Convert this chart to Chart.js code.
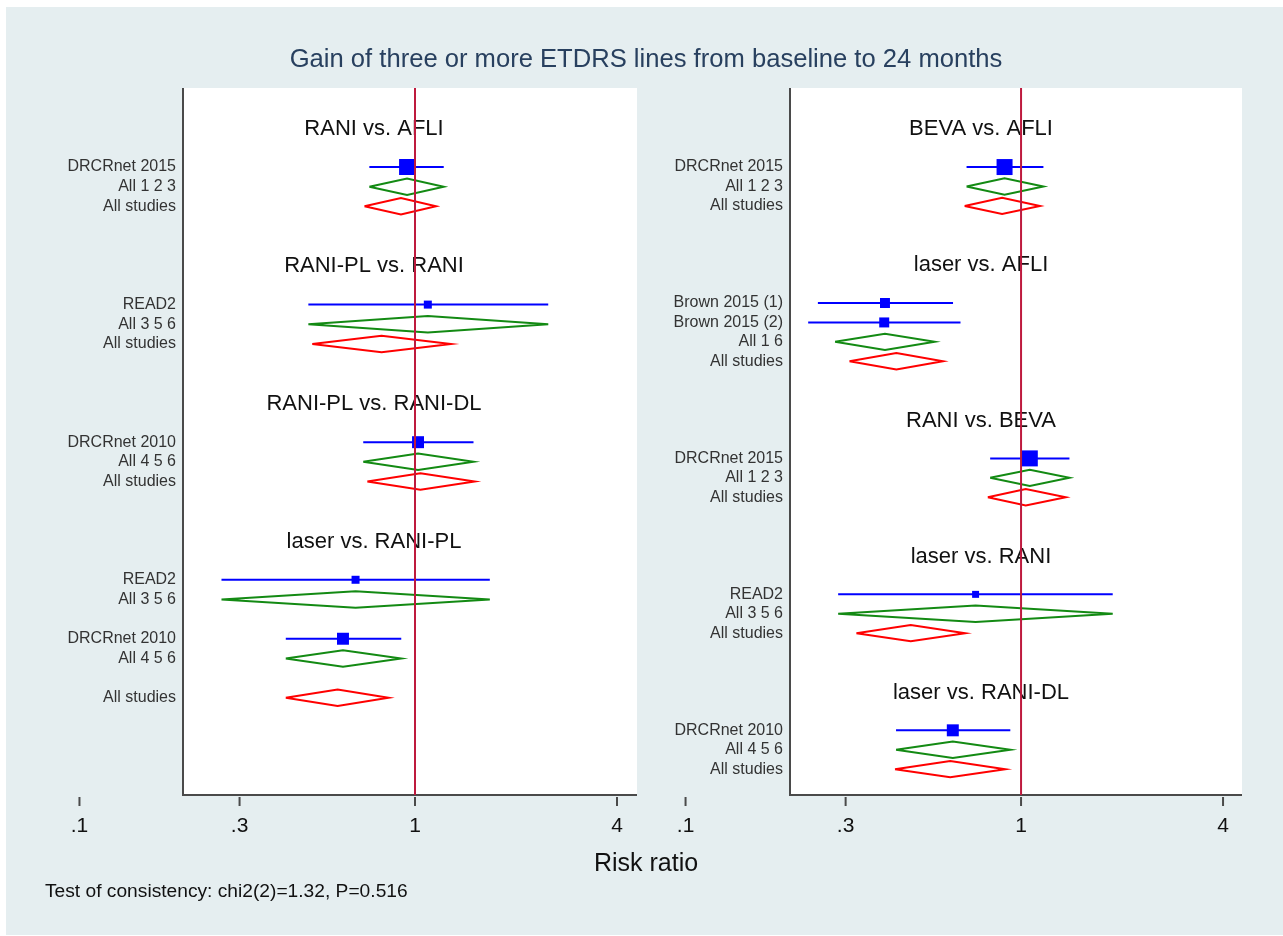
<!DOCTYPE html>
<html>
<head>
<meta charset="utf-8">
<title>Gain of three or more ETDRS lines from baseline to 24 months</title>
<script src="https://cdn.jsdelivr.net/npm/chart.js@4.4.1/dist/chart.umd.min.js"></script>
<style>
  body { margin: 0; background: #fff; width: 1283px; height: 936px; overflow: hidden; position: relative;
         font-family: 'Liberation Sans', Arial, sans-serif; }
  #bg { position: absolute; left: 6px; top: 7px; width: 1277px; height: 928px; background: #e5eef0; }
  canvas { position: absolute; top: 0; }
  .txt { position: absolute; white-space: nowrap; }
</style>
</head>
<body>
<div id="bg"></div>
<canvas id="leftChart" width="640" height="936" style="left:0"></canvas>
<canvas id="rightChart" width="643" height="936" style="left:640px"></canvas>
<div class="txt" style="left:0;width:1292px;top:43px;text-align:center;font-size:25.6px;line-height:30px;color:#28405f">Gain of three or more ETDRS lines from baseline to 24 months</div>
<div class="txt" style="left:0;width:1292px;top:847px;text-align:center;font-size:25px;line-height:30px;color:#111">Risk ratio</div>
<div class="txt" style="left:45px;top:880px;font-size:19.2px;line-height:22px;color:#111">Test of consistency: chi2(2)=1.32, P=0.516</div>

<script>
// x axis ticks (risk ratio, log scale)
const xTicks = [0.1, 0.3, 1, 4];
const xTickLabels = ['.1', '.3', '1', '4'];

// left panel
// type: S = single study (square + CI), D = direct estimate, N = network (all studies), '' = spacer row
const leftTitles = ['RANI vs. AFLI', 'RANI-PL vs. RANI', 'RANI-PL vs. RANI-DL', 'laser vs. RANI-PL'];
const leftGroup  = [0, 0, 0, 1, 1, 1, 2, 2, 2, 3, 3, 3, 3, 3, 3, 3];
const leftLabels = ['DRCRnet 2015', 'All 1 2 3', 'All studies',
                    'READ2', 'All 3 5 6', 'All studies',
                    'DRCRnet 2010', 'All 4 5 6', 'All studies',
                    'READ2', 'All 3 5 6', '', 'DRCRnet 2010', 'All 4 5 6', '', 'All studies'];
const leftType   = ['S', 'D', 'N', 'S', 'D', 'N', 'S', 'D', 'N', 'S', 'D', '', 'S', 'D', '', 'N'];
const leftEst    = [0.947, 0.947, 0.908, 1.092, 1.092, 0.795, 1.021, 1.021, 1.038, 0.665, 0.665, null, 0.610, 0.610, null, 0.588];
const leftLow    = [0.731, 0.731, 0.707, 0.481, 0.481, 0.494, 0.701, 0.701, 0.721, 0.265, 0.265, null, 0.412, 0.412, null, 0.412];
const leftHigh   = [1.218, 1.218, 1.155, 2.495, 2.495, 1.280, 1.494, 1.494, 1.506, 1.671, 1.671, null, 0.910, 0.910, null, 0.834];
const leftWeight = [100, null, null, 25, null, null, 56, null, null, 25, null, null, 56, null, null, null];

// right panel
const rightTitles = ['BEVA vs. AFLI', 'laser vs. AFLI', 'RANI vs. BEVA', 'laser vs. RANI', 'laser vs. RANI-DL'];
const rightGroup  = [0, 0, 0, 1, 1, 1, 1, 2, 2, 2, 3, 3, 3, 4, 4, 4];
const rightLabels = ['DRCRnet 2015', 'All 1 2 3', 'All studies',
                     'Brown 2015 (1)', 'Brown 2015 (2)', 'All 1 6', 'All studies',
                     'DRCRnet 2015', 'All 1 2 3', 'All studies',
                     'READ2', 'All 3 5 6', 'All studies',
                     'DRCRnet 2010', 'All 4 5 6', 'All studies'];
const rightType   = ['S', 'D', 'N', 'S', 'S', 'D', 'N', 'S', 'D', 'N', 'S', 'D', 'N', 'S', 'D', 'N'];
const rightEst    = [0.893, 0.893, 0.878, 0.393, 0.391, 0.393, 0.425, 1.062, 1.062, 1.033, 0.732, 0.732, 0.469, 0.626, 0.626, 0.615];
const rightLow    = [0.688, 0.688, 0.679, 0.248, 0.232, 0.279, 0.308, 0.809, 0.809, 0.796, 0.285, 0.285, 0.323, 0.424, 0.424, 0.421];
const rightHigh   = [1.166, 1.166, 1.139, 0.627, 0.660, 0.553, 0.585, 1.394, 1.394, 1.359, 1.876, 1.876, 0.682, 0.929, 0.929, 0.898];
const rightWeight = [100, null, null, 39, 39, null, null, 100, null, null, 19, null, null, 56, null, null];

const FONT = '"Liberation Sans", Arial, sans-serif';

// title row, one blank row, the items, then two blank rows before the next title
function layoutRows(group) {
    const rows = [], titleRows = [];
    let r = -4;
    group.forEach((g, i) => {
        if (i === 0 || g !== group[i - 1]) {
            r += (i === 0 ? 2 : 3);
            titleRows.push(r);
            r += 1;
        }
        r += 1;
        rows.push(r);
    });
    return { rows, titleRows };
}

function buildDatasets(rows, type, est, low, high, weight) {
    const sets = [];
    const squares = {
        data: [], pointStyle: 'rect', pointRadius: [], backgroundColor: '#0000ff',
        borderWidth: 0, showLine: false, order: -1
    };
    const h = 0.42; // half height of diamonds, in rows
    type.forEach((t, i) => {
        const y = rows[i];
        if (t === 'S') {
            sets.push({
                data: [{ x: low[i], y }, { x: high[i], y }],
                showLine: true, borderColor: '#0000ff', borderWidth: 2, pointRadius: 0
            });
            squares.data.push({ x: est[i], y });
            squares.pointRadius.push(16 * Math.sqrt(weight[i] / 100) / Math.SQRT2);
        } else if (t === 'D' || t === 'N') {
            sets.push({
                data: [{ x: low[i], y }, { x: est[i], y: y - h }, { x: high[i], y },
                       { x: est[i], y: y + h }, { x: low[i], y }],
                showLine: true, borderColor: t === 'D' ? '#138a13' : '#ff0000',
                borderWidth: 2, borderJoinStyle: 'miter', pointRadius: 0, tension: 0
            });
        }
    });
    sets.push(squares);
    return sets;
}

function makeDecor(labels, rows, titles, titleRows) {
    return {
        id: 'forestDecor',
        beforeDraw(chart) {
            const { ctx, chartArea: a } = chart;
            ctx.save();
            ctx.fillStyle = '#ffffff';
            ctx.fillRect(a.left, a.top, a.right - a.left, a.bottom - a.top);
            ctx.restore();
        },
        beforeDatasetsDraw(chart) {
            const { ctx, chartArea: a, scales: { x, y } } = chart;
            ctx.save();
            ctx.textBaseline = 'middle';

            ctx.font = '16px ' + FONT;
            ctx.fillStyle = '#333';
            ctx.textAlign = 'right';
            labels.forEach((t, i) => {
                if (t) ctx.fillText(t, a.left - 7, y.getPixelForValue(rows[i]));
            });

            ctx.font = '22px ' + FONT;
            ctx.fillStyle = '#111';
            ctx.textAlign = 'center';
            titles.forEach((t, i) => ctx.fillText(t, a.left + 191, y.getPixelForValue(titleRows[i]) + 1));

            ctx.strokeStyle = '#4a4a4a';
            ctx.lineWidth = 2;
            ctx.beginPath();
            ctx.moveTo(a.left, a.top);
            ctx.lineTo(a.left, a.bottom);
            ctx.lineTo(a.right, a.bottom);
            ctx.stroke();

            ctx.font = '21px ' + FONT;
            xTicks.forEach((v, i) => {
                const px = x.getPixelForValue(v);
                ctx.beginPath();
                ctx.moveTo(px, a.bottom + 2);
                ctx.lineTo(px, a.bottom + 11);
                ctx.stroke();
                ctx.fillText(xTickLabels[i], px, a.bottom + 31);
            });
            ctx.restore();
        },
        afterDatasetsDraw(chart) {
            const { ctx, chartArea: a, scales: { x } } = chart;
            const px = x.getPixelForValue(1);
            ctx.save();
            ctx.strokeStyle = '#be1a3e';
            ctx.lineWidth = 2;
            ctx.beginPath();
            ctx.moveTo(px, a.top);
            ctx.lineTo(px, a.bottom);
            ctx.stroke();
            ctx.restore();
        }
    };
}

function forestChart(canvasId, titles, group, labels, type, est, low, high, weight, xMin, xMax, yMin, yMax, padding) {
    const { rows, titleRows } = layoutRows(group);
    new Chart(document.getElementById(canvasId), {
        type: 'scatter',
        data: { datasets: buildDatasets(rows, type, est, low, high, weight) },
        options: {
            responsive: false,
            maintainAspectRatio: false,
            devicePixelRatio: 1,
            animation: false,
            layout: { padding, autoPadding: false },
            scales: {
                x: { type: 'logarithmic', min: xMin, max: xMax, display: false },
                y: { type: 'linear', min: yMin, max: yMax, reverse: true, display: false }
            },
            plugins: { legend: { display: false }, tooltip: { enabled: false } }
        },
        plugins: [makeDecor(labels, rows, titles, titleRows)]
    });
}

forestChart('leftChart', leftTitles, leftGroup, leftLabels, leftType, leftEst, leftLow, leftHigh, leftWeight,
    0.2035, 4.588, -4.02, 31.95, { left: 183, top: 88, right: 3, bottom: 141 });
forestChart('rightChart', rightTitles, rightGroup, rightLabels, rightType, rightEst, rightLow, rightHigh, rightWeight,
    0.2048, 4.556, -4.07, 32.33, { left: 150, top: 88, right: 41, bottom: 141 });
</script>
</body>
</html>
